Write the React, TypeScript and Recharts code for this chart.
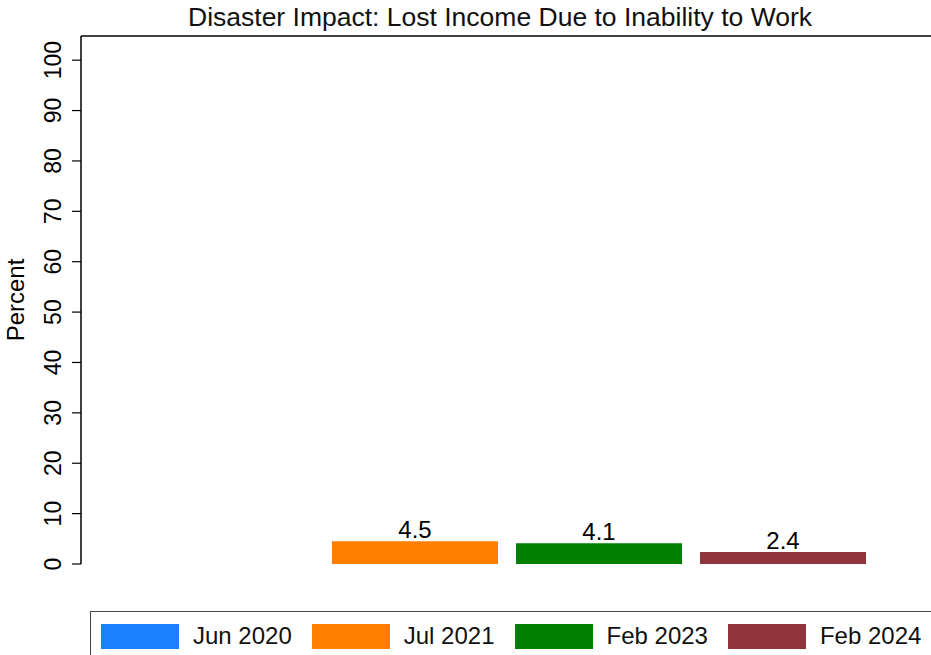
import React from 'react';
import {
  BarChart,
  Bar,
  XAxis,
  YAxis,
  ReferenceLine,
  LabelList,
} from 'recharts';

const periods = ['Jun 2020', 'Jul 2021', 'Feb 2023', 'Feb 2024'];
const values: (number | null)[] = [null, 4.5, 4.1, 2.4];
const yTicks = [0, 10, 20, 30, 40, 50, 60, 70, 80, 90, 100];

const COLORS = ['#1a82ff', '#ff8000', '#008000', '#90353b'];
const FONT = '"Liberation Sans Narrow", "Liberation Sans", Arial, sans-serif';
const Y_MAX = 104.8;

const keyOf = (p: string) => p.replace(' ', '_');

const row: Record<string, any> = { name: 'all' };
periods.forEach((p, i) => {
  row[keyOf(p)] = values[i];
});
const chartData = [row];

const YTick = ({ y, payload }: any) => (
  <text
    x={53}
    y={y}
    transform={`rotate(-90 53 ${y})`}
    textAnchor="middle"
    dominantBaseline="central"
    fontSize={23}
    fontFamily={FONT}
    fill="#000"
  >
    {payload.value}
  </text>
);

export default function App() {
  return (
    <div
      style={{
        position: 'absolute',
        left: 0,
        top: 0,
        width: 931,
        height: 655,
        overflow: 'hidden',
        background: '#fff',
        fontFamily: FONT,
      }}
    >
      <div
        style={{
          position: 'absolute',
          top: 2,
          left: 0,
          width: 1000,
          textAlign: 'center',
          fontSize: 26.5,
          color: '#111',
        }}
      >
        Disaster Impact: Lost Income Due to Inability to Work
      </div>
      <BarChart
        width={935}
        height={655}
        data={chartData}
        margin={{ top: 36, right: 2, left: 0, bottom: 91 }}
        barCategoryGap={67}
        barGap={18}
      >
        <XAxis
          dataKey="name"
          tick={false}
          tickLine={false}
          height={0}
          axisLine={{ stroke: '#000', strokeWidth: 1.5 }}
        />
        <YAxis
          width={81}
          domain={[0, Y_MAX]}
          ticks={yTicks}
          tick={<YTick />}
          tickSize={9}
          tickLine={{ stroke: '#000', strokeWidth: 1.2 }}
          axisLine={{ stroke: '#000', strokeWidth: 1.5 }}
          label={{
            value: 'Percent',
            angle: -90,
            position: 'insideLeft',
            dx: 10,
            style: { fontSize: 24, fontFamily: FONT, fill: '#000', textAnchor: 'middle' },
          }}
        />
        <ReferenceLine y={Y_MAX} stroke="#000" strokeWidth={1.5} />
        {periods.map((p, i) => (
          <Bar key={p} dataKey={keyOf(p)} name={p} fill={COLORS[i]} isAnimationActive={false}>
            <LabelList
              dataKey={keyOf(p)}
              position="top"
              offset={3}
              style={{ fontSize: 24, fontFamily: FONT, fill: '#000' }}
            />
          </Bar>
        ))}
      </BarChart>
      <div
        style={{
          position: 'absolute',
          left: 90,
          top: 611,
          width: 880,
          height: 80,
          border: '1.5px solid #444',
          boxSizing: 'border-box',
          display: 'flex',
          alignItems: 'flex-start',
          paddingLeft: 10,
          paddingTop: 10,
        }}
      >
        {periods.map((p, i) => (
          <div key={p} style={{ display: 'flex', alignItems: 'center', marginRight: 20 }}>
            <div style={{ width: 78, height: 25, background: COLORS[i], marginRight: 14 }} />
            <span style={{ fontSize: 24, color: '#111', whiteSpace: 'nowrap' }}>{p}</span>
          </div>
        ))}
      </div>
    </div>
  );
}
